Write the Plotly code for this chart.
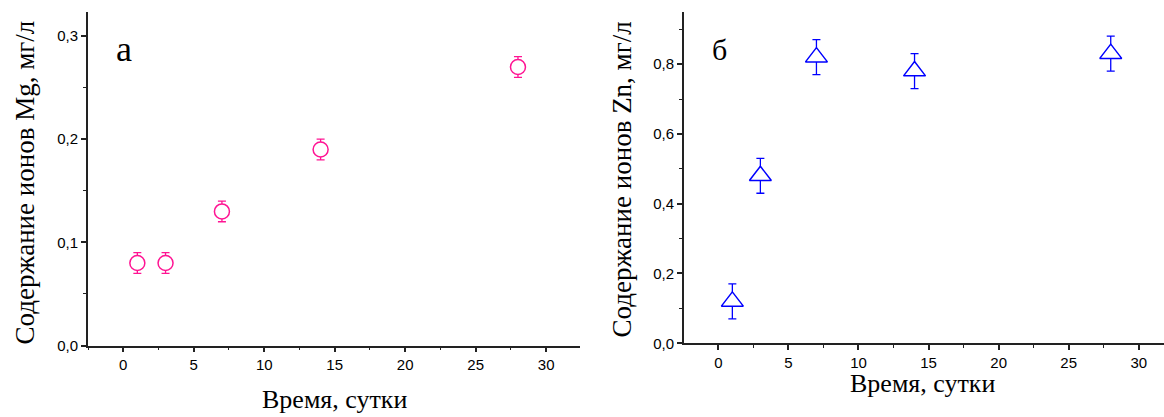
import plotly.graph_objects as go

# Data
days = [1, 3, 7, 14, 28]
mg_values = [0.08, 0.08, 0.13, 0.19, 0.27]
mg_errors = [0.01, 0.01, 0.01, 0.01, 0.01]
zn_values = [0.12, 0.48, 0.82, 0.78, 0.83]
zn_errors = [0.05, 0.05, 0.05, 0.05, 0.05]

x_ticks = [0, 5, 10, 15, 20, 25, 30]
x_title = "Время, сутки"
mg_title = "Содержание ионов Mg, мг/л"
zn_title = "Содержание ионов Zn, мг/л"

W, H = 1164, 417
MG_COLOR = "#FF1493"
ZN_COLOR = "#0000FF"

fig = go.Figure()

# error bars first (markers hidden), then white-filled markers on top
for xa, ya, vals, errs, col in [("x", "y", mg_values, mg_errors, MG_COLOR),
                                ("x2", "y2", zn_values, zn_errors, ZN_COLOR)]:
    fig.add_trace(go.Scatter(
        x=days, y=vals, mode="markers", xaxis=xa, yaxis=ya,
        marker=dict(size=1, color="rgba(0,0,0,0)"),
        error_y=dict(type="data", array=errs, color=col,
                     thickness=1.3, width=4),
        showlegend=False, hoverinfo="skip",
    ))

fig.add_trace(go.Scatter(
    x=days, y=mg_values, mode="markers", xaxis="x", yaxis="y",
    marker=dict(symbol="circle", size=15, color="white",
                line=dict(color=MG_COLOR, width=1.5)),
    showlegend=False,
))
fig.add_trace(go.Scatter(
    x=days, y=zn_values, mode="markers", xaxis="x2", yaxis="y2",
    marker=dict(symbol="triangle-up", size=19, color="white",
                line=dict(color=ZN_COLOR, width=1.5)),
    showlegend=False,
))

tickfont = dict(family="Liberation Sans, Arial", size=15, color="black")
common_x = dict(
    showgrid=False, zeroline=False, showline=True, linecolor="#222",
    linewidth=1.8, ticks="outside", ticklen=5, tickwidth=1.5,
    tickcolor="#222", tickvals=x_ticks, tickfont=tickfont,
    minor=dict(dtick=2.5, tick0=0, ticks="outside", ticklen=3,
               tickwidth=1.2, tickcolor="#222"),
)
common_y = dict(
    showgrid=False, zeroline=False, showline=True, linecolor="#222",
    linewidth=1.8, ticks="outside", ticklen=5, tickwidth=1.5,
    tickcolor="#222", tickformat=".1f", tickfont=tickfont,
)

fig.update_layout(
    width=W, height=H,
    margin=dict(l=0, r=0, t=0, b=0),
    paper_bgcolor="white", plot_bgcolor="white",
    separators=", ",
    xaxis=dict(domain=[88 / W, 580 / W], range=[-2.5, 32.4],
               anchor="y", **common_x),
    yaxis=dict(domain=[(H - 352.3) / H, (H - 12) / H], range=[0, 0.3235],
               anchor="x", dtick=0.1, tick0=0,
               minor=dict(dtick=0.05, tick0=0, ticks="outside", ticklen=3,
                          tickwidth=1.2, tickcolor="#222"),
               **common_y),
    xaxis2=dict(domain=[684 / W, 1.0], range=[-2.45, 31.8],
                anchor="y2", **common_x),
    yaxis2=dict(domain=[(H - 350) / H, (H - 12) / H], range=[0, 0.95],
                anchor="x2", dtick=0.2, tick0=0,
                minor=dict(dtick=0.1, tick0=0, ticks="outside", ticklen=3,
                           tickwidth=1.2, tickcolor="#222"),
                **common_y),
)

titlefont = dict(family="Liberation Serif, Times New Roman", size=26, color="black")
ann = [
    dict(text=x_title, x=334 / W, y=(H - 407) / H, font=titlefont),
    dict(text=x_title, x=922 / W, y=(H - 391) / H, font=titlefont),
    dict(text=mg_title, x=25 / W, y=(H - 186) / H,
         font=dict(titlefont, size=27), textangle=-90),
    dict(text=zn_title, x=622 / W, y=(H - 183) / H,
         font=dict(titlefont, size=27), textangle=-90),
    dict(text="а", x=124 / W, y=(H - 50) / H,
         font=dict(family="Liberation Serif, Times New Roman", size=36, color="black")),
    dict(text="б", x=719 / W, y=(H - 50) / H,
         font=dict(family="Liberation Serif, Times New Roman", size=30, color="black")),
]
for a in ann:
    a.update(xref="paper", yref="paper", showarrow=False,
             xanchor="center", yanchor="middle")
fig.update_layout(annotations=ann)

fig.write_html("out.html")
